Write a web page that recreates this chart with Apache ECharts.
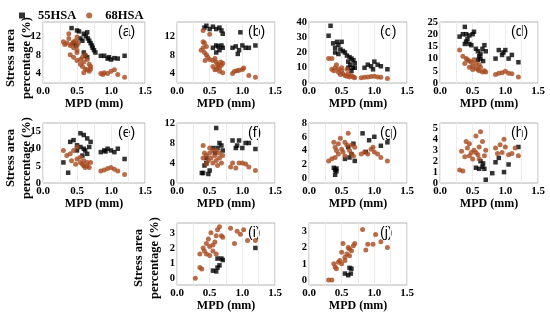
<!DOCTYPE html>
<html><head><meta charset="utf-8">
<script src="https://cdn.jsdelivr.net/npm/echarts@6/dist/echarts.min.js"></script>
<style>html,body{margin:0;padding:0;background:#fff}#c{width:550px;height:320px}</style>
</head><body><div id="c"></div>
<script>
// ---- data ----
const panelNames = ['(a)','(b)','(c)','(d)','(e)','(f)','(g)','(h)','(i)','(j)'];
const seriesNames = ['55HSA','68HSA'];
const xTicks = [0, 0.5, 1.0, 1.5];
const yMin = [2, 2, 0, 0, 0, 0, -0.7, 0, -0.45, -0.3];
const yMax = [15, 15, 40, 25, 17.5, 12, 8, 5.5, 3.65, 3.5];
const yTicks = [[4,8,12],[4,8,12],[0,10,20,30,40],[0,5,10,15,20,25],[0,5,10,15],[0,4,8,12],[0,2,4,6,8],[0,1,2,3,4,5],[0,1,2,3],[0,1,2,3]];

const hsa55_a = [[0.42,13.7],[0.5,13.2],[0.53,13.0],[0.6,12.5],[0.63,12.0],[0.65,12.8],[0.66,11.5],[0.68,11.0],[0.7,10.5],[0.72,10.0],[0.73,9.5],[0.75,9.0],[0.77,8.5],[0.45,10.5],[0.48,10.0],[0.55,11.5],[0.58,11.0],[0.85,7.8],[0.9,7.8],[0.95,7.2],[1.0,7.0],[1.05,7.3],[1.1,7.2],[1.2,7.8],[0.97,7.5],[0.6,8.5],[0.62,7.8],[0.65,7.5]];
const hsa68_a = [[0.3,10.8],[0.32,10.2],[0.35,10.5],[0.38,11.5],[0.4,10.0],[0.42,10.3],[0.45,10.8],[0.48,11.0],[0.5,10.0],[0.52,10.5],[0.38,12.5],[0.5,11.8],[0.45,9.5],[0.5,9.0],[0.4,8.0],[0.45,7.5],[0.5,8.5],[0.55,7.0],[0.58,7.5],[0.62,8.0],[0.65,7.0],[0.68,6.0],[0.7,5.5],[0.6,6.5],[0.55,6.0],[0.5,6.8],[0.62,5.0],[0.65,4.8],[0.68,4.5],[0.7,5.0],[0.6,4.2],[0.58,5.5],[0.85,4.0],[0.9,4.2],[0.95,4.0],[1.0,4.5],[1.05,4.8],[1.1,3.8],[1.2,3.2],[0.88,3.8]];

const hsa55_b = [[0.45,14.2],[0.42,13.8],[0.5,13.5],[0.55,14.0],[0.6,13.5],[0.65,13.8],[0.68,13.2],[0.7,12.5],[0.55,9.5],[0.6,10.0],[0.63,9.8],[0.65,9.0],[0.68,10.0],[0.7,9.5],[0.6,8.5],[0.85,9.5],[0.9,9.8],[0.93,8.2],[0.97,12.8],[1.0,10.0],[1.05,9.5],[1.1,9.5],[1.2,10.0],[0.95,9.0]];
const hsa68_b = [[0.4,13.2],[0.5,12.4],[0.37,9.0],[0.4,9.5],[0.42,10.5],[0.45,9.8],[0.4,10.8],[0.42,8.5],[0.45,8.0],[0.47,7.5],[0.43,6.8],[0.5,7.0],[0.55,6.8],[0.58,7.2],[0.6,6.5],[0.62,6.0],[0.55,5.5],[0.6,5.0],[0.65,5.2],[0.68,5.8],[0.7,6.2],[0.65,4.5],[0.7,4.2],[0.58,4.8],[0.63,5.6],[0.67,6.5],[0.85,4.0],[0.88,4.5],[0.92,4.6],[0.95,4.7],[1.0,4.9],[1.02,5.2],[1.1,3.6],[1.2,3.2]];

const hsa55_c = [[0.33,37.5],[0.3,31],[0.37,26],[0.4,23],[0.45,25],[0.43,27],[0.5,27],[0.48,22],[0.4,20],[0.45,19],[0.52,21],[0.55,20],[0.58,18],[0.6,14],[0.62,17],[0.65,16],[0.63,12],[0.68,15],[0.7,13],[0.67,10],[0.65,8],[0.6,10],[0.7,10],[0.85,10],[0.9,12],[0.95,11],[1.0,14],[1.05,12],[1.1,11],[1.2,9],[0.98,9]];
const hsa68_c = [[0.3,16],[0.35,16],[0.35,9],[0.4,10],[0.42,12],[0.38,8],[0.45,7],[0.5,8],[0.48,5.5],[0.52,6],[0.55,5],[0.58,4.5],[0.6,6],[0.62,4],[0.65,5],[0.68,4],[0.7,3.5],[0.5,10],[0.58,9],[0.45,9],[0.8,3.5],[0.85,3.8],[0.9,4],[0.95,4.2],[1.0,4.5],[1.05,4.0],[1.1,3.8],[1.2,3.0]];

const hsa55_d = [[0.38,23],[0.3,19],[0.35,20],[0.4,20],[0.42,18],[0.45,19.5],[0.5,20],[0.52,21],[0.4,17],[0.45,16],[0.48,15.5],[0.38,16],[0.55,14],[0.58,13],[0.6,11],[0.62,12],[0.65,14],[0.68,15.5],[0.7,13],[0.62,10],[0.66,9],[0.58,9.5],[0.85,10],[0.9,13.5],[0.95,11.5],[1.0,13.5],[1.05,10],[1.1,11.5],[1.2,8.5],[0.97,12.5]];
const hsa68_d = [[0.3,13.5],[0.35,11],[0.4,10],[0.42,9.5],[0.45,9],[0.38,8],[0.48,8.5],[0.5,7],[0.52,9.5],[0.55,6],[0.58,5.5],[0.6,5],[0.62,6.5],[0.65,4.5],[0.68,5],[0.7,4.5],[0.5,5.5],[0.6,7.5],[0.55,8],[0.45,6.5],[0.85,3.5],[0.9,4],[0.95,4.2],[1.0,4.8],[1.05,4.0],[1.1,3.8],[1.2,2.5]];

const hsa55_e = [[0.3,6],[0.37,3],[0.4,12],[0.45,12.5],[0.5,11],[0.55,10.5],[0.55,14.5],[0.6,14],[0.65,13],[0.6,10],[0.62,9.5],[0.68,10.5],[0.7,12],[0.5,9.5],[0.58,8],[0.65,8.5],[0.85,9],[0.9,9.5],[0.95,10],[1.0,9.5],[1.05,9],[1.1,10],[1.2,7],[0.92,9.2]];
const hsa68_e = [[0.3,9.5],[0.35,8],[0.4,8.5],[0.42,6.5],[0.45,9.5],[0.5,7],[0.5,10.5],[0.55,6],[0.58,5.5],[0.6,5],[0.62,4.5],[0.65,5],[0.68,4.5],[0.7,6],[0.55,7.5],[0.6,6.5],[0.48,5.5],[0.65,6],[0.85,3.5],[0.9,3.8],[0.95,4.2],[1.0,4.5],[1.05,4.0],[1.1,3.5],[1.2,2.5]];

const hsa55_f = [[0.38,2],[0.4,2],[0.42,3.5],[0.45,4],[0.48,1.8],[0.5,2.5],[0.45,5],[0.6,11],[0.62,7],[0.65,8],[0.68,7.5],[0.7,6.5],[0.55,7],[0.58,6],[0.85,8.5],[0.9,7],[0.95,8.5],[1.0,7],[1.05,8],[1.1,8],[1.2,6.8],[0.92,7.5]];
const hsa68_f = [[0.4,7.5],[0.42,6],[0.45,5.5],[0.48,4.5],[0.5,6],[0.52,5],[0.55,4],[0.58,5.5],[0.6,4.5],[0.62,3.5],[0.65,5],[0.68,4],[0.7,5.5],[0.45,3.8],[0.5,7],[0.55,6.5],[0.6,6.5],[0.65,6],[0.4,5],[0.82,3.2],[0.85,4],[0.9,3],[0.95,4],[1.0,4],[1.05,3.8],[1.1,3.2],[1.2,2.5]];

const hsa55_g = [[0.38,1.5],[0.4,1.2],[0.42,1.0],[0.4,0.5],[0.42,1.4],[0.55,2.8],[0.6,4.5],[0.65,3.5],[0.68,5],[0.7,2.5],[0.62,3],[0.82,6.5],[0.87,3.8],[0.92,5.5],[1.0,6],[1.1,4.7],[1.2,5.2]];
const hsa68_g = [[0.3,2.5],[0.35,2.8],[0.38,5.2],[0.4,4.5],[0.42,4.0],[0.45,3.5],[0.48,5.8],[0.5,4.2],[0.52,3.8],[0.55,5.2],[0.58,4.8],[0.6,6.5],[0.62,4.0],[0.65,3.5],[0.68,3.2],[0.7,4.5],[0.65,4.8],[0.45,5.0],[0.4,3.0],[0.55,3.2],[0.8,3.5],[0.85,3.8],[0.9,3.5],[0.95,4.2],[1.0,3.8],[1.05,3.5],[1.1,3.0],[1.2,2.5],[0.98,4.5]];

const hsa55_h = [[0.55,1.4],[0.6,1.3],[0.62,2.0],[0.65,1.5],[0.68,1.3],[0.7,0.3],[0.66,1.8],[0.8,0.9],[0.85,1.9],[0.9,2.3],[0.98,1.0],[1.05,1.7],[1.2,3.3]];
const hsa68_h = [[0.3,1.2],[0.35,1.1],[0.33,2.9],[0.38,2.4],[0.4,3.8],[0.42,3.2],[0.45,3.6],[0.48,2.8],[0.5,2.2],[0.52,3.0],[0.55,4.3],[0.58,2.6],[0.6,3.3],[0.62,4.7],[0.65,3.8],[0.68,2.5],[0.7,3.0],[0.6,2.2],[0.55,2.8],[0.45,2.5],[0.85,3.2],[0.88,2.7],[0.92,3.5],[0.95,2.8],[0.98,4.0],[1.0,3.3],[1.05,2.6],[1.1,2.7],[1.2,2.5],[1.15,3.2]];

const hsa55_i = [[0.55,0.5],[0.6,0.45],[0.62,0.7],[0.65,0.85],[0.68,1.3],[0.7,1.2],[0.62,1.3],[1.2,2.0]];
const hsa68_i = [[0.28,0.0],[0.35,0.7],[0.38,0.6],[0.35,1.6],[0.4,2.0],[0.42,1.8],[0.45,1.6],[0.48,2.6],[0.5,2.1],[0.52,3.0],[0.55,2.2],[0.58,2.4],[0.6,2.8],[0.62,3.2],[0.65,3.4],[0.68,2.8],[0.7,2.7],[0.6,1.6],[0.55,1.8],[0.5,1.5],[0.45,2.3],[0.82,3.3],[0.88,2.3],[0.92,3.1],[0.97,2.9],[1.02,3.2],[1.08,2.5],[1.2,2.5]];

const hsa55_j = [[0.55,0.4],[0.6,0.3],[0.62,0.75],[0.65,0.7],[0.64,0.4]];
const hsa68_j = [[0.3,0.0],[0.35,0.0],[0.38,1.0],[0.4,0.8],[0.42,0.7],[0.45,1.1],[0.47,1.2],[0.5,1.7],[0.52,2.25],[0.55,1.4],[0.58,1.6],[0.6,2.0],[0.62,1.5],[0.65,1.8],[0.68,2.1],[0.7,2.25],[0.5,1.0],[0.55,1.2],[0.62,1.9],[0.82,3.1],[0.87,1.85],[0.9,2.2],[0.98,2.2],[1.02,2.8],[1.1,2.35],[1.2,2.0]];

const data55 = [hsa55_a,hsa55_b,hsa55_c,hsa55_d,hsa55_e,hsa55_f,hsa55_g,hsa55_h,hsa55_i,hsa55_j];
const data68 = [hsa68_a,hsa68_b,hsa68_c,hsa68_d,hsa68_e,hsa68_f,hsa68_g,hsa68_h,hsa68_i,hsa68_j];
const xTitle = 'MPD (mm)';
const yTitleLines = ['Stress area', 'percentage (%)'];

// ---- layout ----
const colLeft = [43, 177, 309, 440];
const colWidth = [102, 98, 98, 98];
const rowTop = [22, 123, 223];
const rowHeight = [61, 60, 62];
const place = [[0,0],[0,1],[0,2],[0,3],[1,0],[1,1],[1,2],[1,3],[2,1],[2,2]];
// y-title positions: [x of line1, x of line2, y centre]
const yTitlePos = [[11, 27, 58], [11, 27, 158], [139, 155, 258]];

const serif = 'Liberation Serif';
const black = '#000';
const brown = '#a84a1e';

const grids = [], xAxes = [], yAxes = [], series = [], graphics = [];
place.forEach(([r, c], i) => {
  const left = colLeft[c], top = rowTop[r], w = colWidth[c], h = rowHeight[r];
  grids.push({left, top, width: w, height: h, show: true, borderColor: '#b4b4b4', borderWidth: 1, containLabel: false});
  xAxes.push({
    gridIndex: i, type: 'value', min: xTicks[0], max: xTicks[xTicks.length-1], interval: 0.25,
    name: xTitle, nameLocation: 'middle', nameGap: 15,
    nameTextStyle: {fontFamily: serif, fontWeight: 'bold', fontSize: 12, color: black},
    axisLine: {show: false}, axisTick: {show: false},
    axisLabel: {customValues: xTicks, formatter: v => v.toFixed(1), margin: 3, fontFamily: serif, fontWeight: 'bold', fontSize: 11, color: black},
    splitLine: {show: true, lineStyle: {color: '#ececec', width: 1}}
  });
  yAxes.push({
    gridIndex: i, type: 'value', min: yMin[i], max: yMax[i],
    axisLine: {show: false}, axisTick: {show: false},
    axisLabel: {customValues: yTicks[i], margin: 2, fontFamily: serif, fontWeight: 'bold', fontSize: 10.5, color: black},
    splitLine: {show: false}
  });
  series.push({name: seriesNames[0], type: 'scatter', xAxisIndex: i, yAxisIndex: i, data: data55[i],
    symbol: 'rect', symbolSize: 4.5, itemStyle: {color: black}, silent: true});
  series.push({name: seriesNames[1], type: 'scatter', xAxisIndex: i, yAxisIndex: i, data: data68[i],
    symbol: 'circle', symbolSize: 5, itemStyle: {color: brown}, silent: true});
  graphics.push({type: 'text', left: left + w - 27, top: top + 3,
    style: {text: panelNames[i], font: '14px "Liberation Sans"', fill: black}});
});
yTitlePos.forEach(([x1, x2, yc]) => {
  [x1, x2].forEach((x, k) => {
    graphics.push({type: 'text', x, y: yc, rotation: Math.PI / 2,
      style: {text: yTitleLines[k], font: 'bold 12.5px "Liberation Serif"', fill: black, align: 'center', verticalAlign: 'middle'}});
  });
});

const chart = echarts.init(document.getElementById('c'), null, {renderer: 'canvas'});
chart.setOption({
  animation: false,
  backgroundColor: '#fff',
  legend: {
    data: [{name: seriesNames[0], icon: 'rect', itemStyle: {color: black}}, {name: seriesNames[1], icon: 'circle', itemStyle: {color: brown}}],
    left: 14, top: 4, itemWidth: 6, itemHeight: 6, itemGap: 10,
    textStyle: {fontFamily: serif, fontWeight: 'bold', fontSize: 12.5, color: black, padding: [0, 0, 0, 8]}
  },
  grid: grids, xAxis: xAxes, yAxis: yAxes, series, graphic: graphics
});
</script></body></html>
